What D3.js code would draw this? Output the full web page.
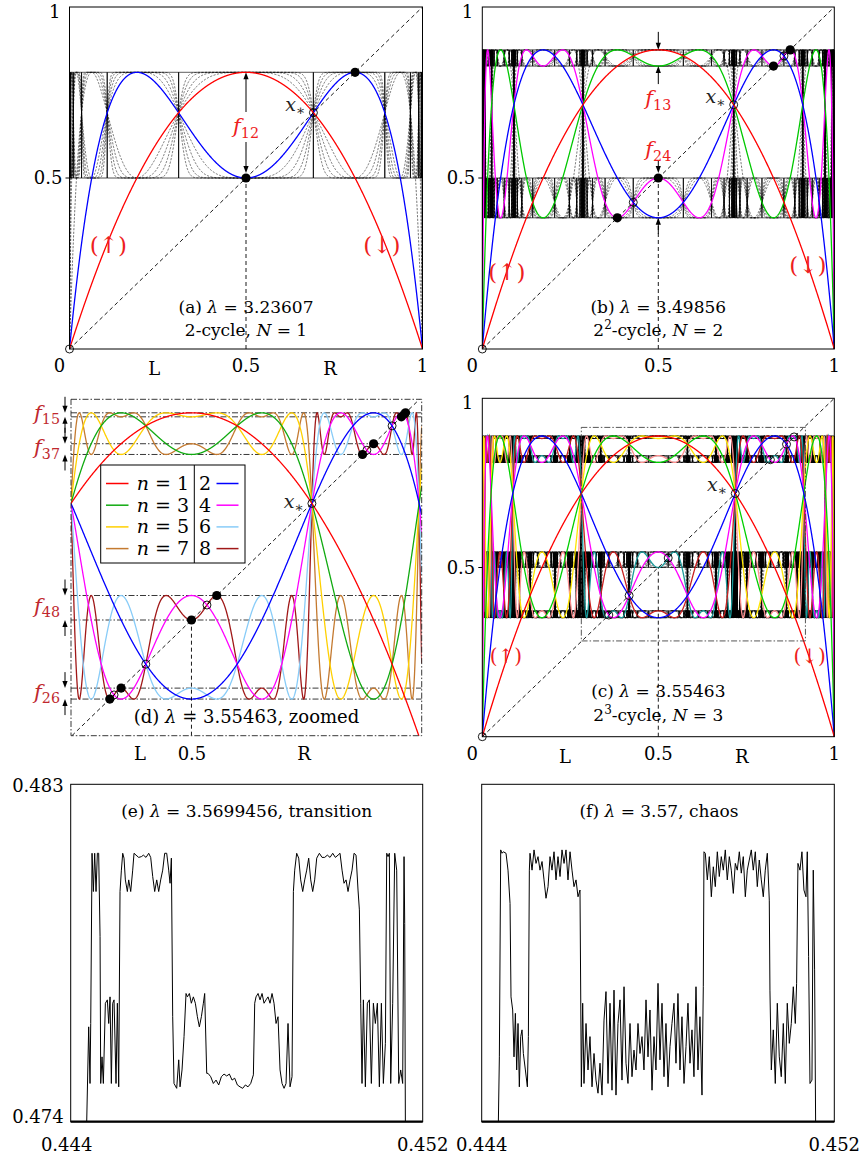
<!DOCTYPE html>
<html><head><meta charset="utf-8">
<script src="https://cdn.jsdelivr.net/npm/d3@7"></script>
<style>
body{margin:0;background:#fff;}
svg{display:block;font-family:"DejaVu Serif",serif;}
</style></head><body>
<svg id="fig" width="861" height="1155"></svg>
<script>
// Logistic map x -> λ x (1 - x): parameters of the six panels
const panelIds   = ["a", "b", "c", "d", "e", "f"];
const lambdas    = [3.23607, 3.49856, 3.55463, 3.55463, 3.5699456, 3.57];
const cycleOrder = [1, 2, 3, 3];               // N, superstable cycle of length 2^N
const colouredN  = [2, 4, 8, 8];               // low iterates drawn in colour
const dashedCount = [8, 13, 34];               // further iterates drawn as thin black dashes
const unitTicks  = [0, 0.5, 1];
const unitTickLabels = ["0", "0.5", "1"];
const zoomX = [0.2813, 0.918];                 // window of panel (d)
const zoomY = [0.283, 0.914];
const fineX = [0.444, 0.452];                  // window of panels (e), (f)
const fineY = [0.474, 0.483];
const fineXLabels = ["0.444", "0.452"];
const fineYLabels = ["0.474", "0.483"];
const pairLabels = [[1, 5], [3, 7], [4, 8], [2, 6]];

// high iterate over the fine window, λ = 3.5699456 (values below 0.474 sit on the floor)
const transitionSeries = [
  [0.444, 0.474], [0.444348, 0.474], [0.444364, 0.474], [0.444409, 0.47653], [0.444439, 0.47502], [0.444455, 0.47662],
  [0.444485, 0.48116], [0.444515, 0.48014], [0.444545, 0.48116], [0.444576, 0.48014], [0.444606, 0.48116], [0.444636, 0.48116],
  [0.444667, 0.47894], [0.444682, 0.47502], [0.444712, 0.47573], [0.444742, 0.47502], [0.444788, 0.47716], [0.444833, 0.47725],
  [0.444864, 0.47662], [0.444894, 0.47733], [0.444924, 0.47502], [0.444955, 0.47716], [0.444985, 0.47725], [0.445030, 0.47502],
  [0.445061, 0.47716], [0.445091, 0.47493], [0.445121, 0.48014], [0.445152, 0.48071], [0.445182, 0.48116], [0.445212, 0.48103],
  [0.445242, 0.48045], [0.445288, 0.48014], [0.445318, 0.48045], [0.445364, 0.48014], [0.445409, 0.48071], [0.445439, 0.48116],
  [0.445485, 0.48111], [0.445545, 0.48105], [0.445606, 0.48107], [0.445652, 0.48111], [0.445712, 0.48105], [0.445773, 0.48116],
  [0.445818, 0.48105], [0.445864, 0.48054], [0.445909, 0.48014], [0.445955, 0.48045], [0.446000, 0.48014], [0.446045, 0.48045],
  [0.446091, 0.48071], [0.446136, 0.48116], [0.446182, 0.48116], [0.446227, 0.48071], [0.446258, 0.48036], [0.446288, 0.48103],
  [0.446318, 0.47680], [0.446348, 0.47502], [0.446409, 0.47489], [0.446455, 0.47565], [0.446485, 0.47493], [0.446530, 0.47538],
  [0.446576, 0.47627], [0.446621, 0.47742], [0.446652, 0.47733], [0.446697, 0.47742], [0.446742, 0.47716], [0.446788, 0.47733],
  [0.446833, 0.47716], [0.446879, 0.47680], [0.446924, 0.47653], [0.446970, 0.47680], [0.447015, 0.47716], [0.447045, 0.47742],
  [0.447091, 0.47529], [0.447121, 0.47529], [0.447182, 0.47520], [0.447242, 0.47502], [0.447303, 0.47511], [0.447364, 0.47498],
  [0.447424, 0.47520], [0.447485, 0.47527], [0.447545, 0.47522], [0.447606, 0.47527], [0.447667, 0.47511], [0.447727, 0.47516],
  [0.447788, 0.47498], [0.447848, 0.47493], [0.447909, 0.47489], [0.447970, 0.47498], [0.448030, 0.47493], [0.448091, 0.47502],
  [0.448152, 0.47525], [0.448182, 0.47716], [0.448212, 0.47733], [0.448258, 0.47742], [0.448303, 0.47725], [0.448349, 0.47742],
  [0.448394, 0.47716], [0.448439, 0.47725], [0.448485, 0.47733], [0.448530, 0.47716], [0.448576, 0.47742], [0.448621, 0.47716],
  [0.448667, 0.47662], [0.448712, 0.47680], [0.448758, 0.47538], [0.448803, 0.47502], [0.448849, 0.47489], [0.448894, 0.47502],
  [0.448939, 0.47662], [0.448985, 0.47493], [0.449030, 0.47520], [0.449061, 0.48014], [0.449091, 0.48071], [0.449136, 0.48116],
  [0.449182, 0.48103], [0.449227, 0.48045], [0.449273, 0.48014], [0.449318, 0.48045], [0.449364, 0.48071], [0.449409, 0.48103],
  [0.449455, 0.48045], [0.449500, 0.48014], [0.449545, 0.48045], [0.449591, 0.48103], [0.449652, 0.48116], [0.449712, 0.48105],
  [0.449773, 0.48105], [0.449833, 0.48111], [0.449894, 0.48105], [0.449955, 0.48116], [0.450015, 0.48105], [0.450076, 0.48111],
  [0.450121, 0.48116], [0.450167, 0.48071], [0.450212, 0.48036], [0.450258, 0.48045], [0.450303, 0.48014], [0.450349, 0.48045],
  [0.450394, 0.48071], [0.450439, 0.48116], [0.450485, 0.48111], [0.450530, 0.48018], [0.450561, 0.47965], [0.450591, 0.47716],
  [0.450621, 0.47502], [0.450652, 0.47725], [0.450697, 0.47493], [0.450742, 0.47716], [0.450788, 0.47725], [0.450833, 0.47502],
  [0.450879, 0.47716], [0.450924, 0.47662], [0.450970, 0.47716], [0.451015, 0.47493], [0.451061, 0.47716], [0.451106, 0.47502],
  [0.451152, 0.47609], [0.451182, 0.48116], [0.451212, 0.48107], [0.451242, 0.48116], [0.451273, 0.47502], [0.451318, 0.47716],
  [0.451364, 0.48116], [0.451409, 0.48071], [0.451455, 0.47502], [0.451500, 0.47538], [0.451545, 0.47502], [0.451576, 0.48107],
  [0.451591, 0.47929], [0.451606, 0.474], [0.452, 0.474]
];
// the same iterate at λ = 3.57
const chaosSeries = [
  [0.444, 0.474], [0.444378, 0.474], [0.444401, 0.47573], [0.444431, 0.48125], [0.444461, 0.48116], [0.444491, 0.48120],
  [0.444552, 0.48116], [0.444597, 0.48071], [0.444643, 0.47982], [0.444665, 0.47733], [0.444703, 0.47698], [0.444733, 0.47573],
  [0.444764, 0.47689], [0.444794, 0.47538], [0.444824, 0.47662], [0.444854, 0.47493], [0.444885, 0.47627], [0.444915, 0.47645],
  [0.444945, 0.47582], [0.444991, 0.47538], [0.445036, 0.47493], [0.445059, 0.47627], [0.445081, 0.48071], [0.445096, 0.48116],
  [0.445142, 0.48071], [0.445187, 0.48125], [0.445232, 0.48089], [0.445278, 0.48107], [0.445323, 0.48071], [0.445369, 0.48094],
  [0.445414, 0.48045], [0.445459, 0.47996], [0.445505, 0.48027], [0.445550, 0.48107], [0.445595, 0.48071], [0.445641, 0.48120],
  [0.445686, 0.48045], [0.445731, 0.48107], [0.445777, 0.48054], [0.445822, 0.48125], [0.445868, 0.48089], [0.445913, 0.48125],
  [0.445958, 0.48045], [0.446004, 0.48120], [0.446049, 0.48071], [0.446094, 0.48027], [0.446140, 0.48045], [0.446185, 0.48000],
  [0.446230, 0.48018], [0.446261, 0.47493], [0.446291, 0.47716], [0.446321, 0.47502], [0.446367, 0.47662], [0.446412, 0.47538],
  [0.446457, 0.47627], [0.446503, 0.47493], [0.446548, 0.47582], [0.446593, 0.47511], [0.446639, 0.47476], [0.446684, 0.47556],
  [0.446730, 0.47471], [0.446775, 0.47671], [0.446820, 0.47747], [0.446866, 0.47502], [0.446911, 0.47716], [0.446956, 0.47484],
  [0.447002, 0.47751], [0.447047, 0.47471], [0.447092, 0.47662], [0.447138, 0.47725], [0.447183, 0.47511], [0.447229, 0.47760],
  [0.447274, 0.47556], [0.447319, 0.47502], [0.447365, 0.47662], [0.447410, 0.47520], [0.447455, 0.47591], [0.447501, 0.47538],
  [0.447546, 0.47662], [0.447591, 0.47582], [0.447637, 0.47627], [0.447682, 0.47538], [0.447728, 0.47725], [0.447773, 0.47573],
  [0.447818, 0.47698], [0.447864, 0.47484], [0.447909, 0.47627], [0.447954, 0.47538], [0.448000, 0.47769], [0.448045, 0.47565],
  [0.448091, 0.47716], [0.448136, 0.47520], [0.448181, 0.47662], [0.448227, 0.47493], [0.448272, 0.47600], [0.448317, 0.47662],
  [0.448363, 0.47716], [0.448408, 0.47556], [0.448453, 0.47742], [0.448499, 0.47538], [0.448544, 0.47680], [0.448590, 0.47502],
  [0.448635, 0.47600], [0.448680, 0.47716], [0.448726, 0.47556], [0.448771, 0.47645], [0.448816, 0.47520], [0.448862, 0.47760],
  [0.448907, 0.47538], [0.448952, 0.47680], [0.448998, 0.47471], [0.449028, 0.47760], [0.449043, 0.48120], [0.449073, 0.48116],
  [0.449119, 0.48045], [0.449164, 0.48107], [0.449210, 0.48000], [0.449255, 0.48080], [0.449300, 0.48027], [0.449346, 0.48120],
  [0.449391, 0.48054], [0.449436, 0.48107], [0.449482, 0.48071], [0.449527, 0.48125], [0.449572, 0.48045], [0.449618, 0.48107],
  [0.449663, 0.48071], [0.449709, 0.48009], [0.449754, 0.48089], [0.449799, 0.48071], [0.449845, 0.48120], [0.449890, 0.48063],
  [0.449935, 0.48107], [0.449981, 0.48000], [0.450026, 0.48071], [0.450071, 0.48098], [0.450117, 0.48125], [0.450162, 0.48071],
  [0.450208, 0.48120], [0.450253, 0.48027], [0.450298, 0.48098], [0.450344, 0.48045], [0.450389, 0.48000], [0.450434, 0.48071],
  [0.450480, 0.48116], [0.450525, 0.47991], [0.450540, 0.47751], [0.450571, 0.47538], [0.450616, 0.47645], [0.450661, 0.47502],
  [0.450707, 0.47716], [0.450752, 0.47573], [0.450797, 0.47520], [0.450843, 0.47662], [0.450888, 0.47502], [0.450933, 0.47716],
  [0.450979, 0.47609], [0.451024, 0.47662], [0.451070, 0.47760], [0.451115, 0.47662], [0.451145, 0.47769], [0.451175, 0.48089],
  [0.451221, 0.48071], [0.451266, 0.48120], [0.451311, 0.48018], [0.451357, 0.48000], [0.451387, 0.48120], [0.451417, 0.47840],
  [0.451448, 0.47502], [0.451493, 0.47511], [0.451523, 0.48071], [0.451553, 0.47805], [0.451576, 0.474], [0.452, 0.474]
];

const coloursAB = ["#ff0000", "#0000ff", "#00c800", "#ff00ff"];
const coloursC  = ["#ff0000", "#0000ff", "#00d000", "#ff00ff", "#ffe600", "#c82020", "#ff9090", "#1a9a9a"];
const coloursD  = ["#ff0000", "#0000ff", "#10aa10", "#ff00ff", "#ffd000", "#88ccf8", "#c47a30", "#a01818"];

const svg = d3.select("#fig");
const defs = svg.append("defs");

function orbitOfHalf(lam, count) {
  const out = []; let x = 0.5;
  for (let k = 1; k <= count; k++) { x = lam * x * (1 - x); out.push(x); }
  return out;
}
function iterate(lam, x, n) { for (let i = 0; i < n; i++) x = lam * x * (1 - x); return x; }

// graphs of several iterates f^n sampled on a common grid
function iterateGraphs(lam, ns, dom, samples) {
  const maxN = d3.max(ns); const want = new Map(ns.map(n => [n, []]));
  for (let i = 0; i <= samples; i++) {
    const x0 = dom[0] + (dom[1] - dom[0]) * i / samples; let x = x0;
    for (let n = 1; n <= maxN; n++) {
      x = lam * x * (1 - x);
      const arr = want.get(n); if (arr) arr.push([x0, x]);
    }
  }
  return ns.map(n => ({ n, pts: want.get(n) }));
}
// all solutions of f^p(x) = x in [0,1]
function periodicPoints(lam, p) {
  const g = x => iterate(lam, x, p) - x; const pts = [0]; const M = 20000;
  let xa = 1e-7, ga = g(xa);
  for (let i = 1; i <= M; i++) {
    const xb = i / M - 1e-9, gb = g(xb);
    if (ga * gb < 0) {
      let lo = xa, hi = xb, glo = ga;
      for (let k = 0; k < 60; k++) { const m = (lo + hi) / 2, gm = g(m); if (gm * glo <= 0) hi = m; else { lo = m; glo = gm; } }
      pts.push((lo + hi) / 2);
    }
    xa = xb; ga = gb;
  }
  return pts;
}

function panelFrame(id, box, xDom, yDom) {
  const x = d3.scaleLinear().domain(xDom).range([box.l, box.r]);
  const y = d3.scaleLinear().domain(yDom).range([box.b, box.t]);
  defs.append("clipPath").attr("id", "clip-" + id).append("rect")
    .attr("x", box.l).attr("y", box.t).attr("width", box.r - box.l).attr("height", box.b - box.t);
  const g = svg.append("g");
  const plot = g.append("g").attr("clip-path", `url(#clip-${id})`);
  return { x, y, g, plot, box };
}
const lineOf = (P) => d3.line().x(d => P.x(d[0])).y(d => P.y(d[1]));

function arrow(g, x, yFrom, yTo, colour = "#000") {
  const dir = Math.sign(yTo - yFrom);
  g.append("line").attr("x1", x).attr("x2", x).attr("y1", yFrom).attr("y2", yTo - dir * 5)
    .attr("stroke", colour).attr("stroke-width", 1);
  g.append("path").attr("d", `M${x},${yTo} L${x - 2.6},${yTo - dir * 7} L${x + 2.6},${yTo - dir * 7} Z`).attr("fill", colour);
}
function fLabel(g, x, y, sub, colour, anchor = "middle", size = 21) {
  const t = g.append("text").attr("x", x).attr("y", y).attr("fill", colour).attr("text-anchor", anchor)
    .attr("font-size", size);
  t.append("tspan").attr("font-style", "italic").text("f");
  t.append("tspan").attr("font-size", size * 0.68).attr("dy", size * 0.22).text(sub);
}
function xStar(g, x, y) {
  const t = g.append("text").attr("x", x).attr("y", y).attr("text-anchor", "end").attr("font-size", 19).attr("fill", "#222");
  t.append("tspan").attr("font-style", "italic").text("x");
  t.append("tspan").attr("font-size", 14).attr("dy", 4).text("∗");
}
function caption(g, x, y, letter, lam, extra, size = 17) {
  const t = g.append("text").attr("x", x).attr("y", y).attr("text-anchor", "middle").attr("font-size", size);
  t.append("tspan").text(`(${letter}) `);
  t.append("tspan").attr("font-style", "italic").text("λ");
  t.append("tspan").text(` = ${lam}` + (extra || ""));
}
function cycleLine(g, x, y, N) {
  const t = g.append("text").attr("x", x).attr("y", y).attr("text-anchor", "middle").attr("font-size", 17);
  t.append("tspan").text("2");
  if (N > 1) { t.append("tspan").attr("font-size", 12).attr("dy", -7).text(N); t.append("tspan").attr("dy", 7).text("-cycle, "); }
  else t.append("tspan").text("-cycle, ");
  t.append("tspan").attr("font-style", "italic").text("N");
  t.append("tspan").text(` = ${N}`);
}
function arrowsLabel(g, x, y, dir, colour, size = 23) {
  g.append("text").attr("x", x).attr("y", y).attr("text-anchor", "middle").attr("font-size", size)
    .attr("fill", colour).text(dir > 0 ? "(↑)" : "(↓)");
}

const boxes = {
  a: { l: 69.5, r: 422.5, t: 7, b: 349 },
  b: { l: 482.3, r: 834.3, t: 7, b: 349 },
  c: { l: 482.3, r: 834.3, t: 398.3, b: 736.7 },
  d: { l: 71, r: 421.7, t: 399.3, b: 735.7 },
  e: { l: 70.7, r: 422.7, t: 784.3, b: 1121.7 },
  f: { l: 481.7, r: 834.3, t: 784.3, b: 1121.7 }
};

// ---------- full-interval panels (a), (b), (c) ----------
function fullPanel(idx) {
  const id = panelIds[idx], lam = lambdas[idx], N = cycleOrder[idx], period = 2 ** N;
  const P = panelFrame(id, boxes[id], [0, 1], [0, 1]);
  const colours = idx === 2 ? coloursC : coloursAB;
  const nc = colouredN[idx];
  const dashedN = d3.range(nc + 1, nc + 1 + dashedCount[idx]);
  const highN = d3.range(period * 60, period * 60 + period);
  const line = lineOf(P);
  iterateGraphs(lam, dashedN, [0, 1], 2400).forEach(c => {
    P.plot.append("path").attr("d", line(c.pts)).attr("fill", "none").attr("stroke", "#000")
      .attr("stroke-width", 0.55).attr("stroke-dasharray", "2.2,1.4");
  });
  iterateGraphs(lam, highN, [0, 1], 3000).forEach(c => {
    P.plot.append("path").attr("d", line(c.pts)).attr("fill", "none").attr("stroke", "#000").attr("stroke-width", 0.8);
  });
  iterateGraphs(lam, d3.range(nc, 0, -1), [0, 1], 1500).forEach(c => {
    P.plot.append("path").attr("d", line(c.pts)).attr("fill", "none").attr("stroke", colours[c.n - 1]).attr("stroke-width", 1.3);
  });
  // diagonal and the critical line x = 1/2
  P.plot.append("path").attr("d", line([[0, 0], [1, 1]])).attr("stroke", "#000").attr("stroke-width", 0.9).attr("stroke-dasharray", "4,3");
  P.plot.append("path").attr("d", line([[0.5, 0], [0.5, 0.5]])).attr("stroke", "#000").attr("stroke-width", 0.9).attr("stroke-dasharray", "4,3");
  P.g.append("rect").attr("x", P.box.l).attr("y", P.box.t).attr("width", P.box.r - P.box.l).attr("height", P.box.b - P.box.t)
    .attr("fill", "none").attr("stroke", "#000").attr("stroke-width", 1);
  P.g.append("line").attr("x1", P.box.l - 4).attr("x2", P.box.l).attr("y1", P.y(0.5)).attr("y2", P.y(0.5)).attr("stroke", "#000");
  unitTicks.forEach((v, i) => {
    P.g.append("text").attr("x", P.x(v) + (v === 0 ? -10 : 0)).attr("y", P.box.b + 23).attr("text-anchor", "middle")
      .attr("font-size", 18).text(unitTickLabels[i]);
  });
  P.g.append("text").attr("x", P.box.l - 7).attr("y", P.y(0.5) + 6).attr("text-anchor", "end").attr("font-size", 18).text(unitTickLabels[1]);
  P.g.append("text").attr("x", P.box.l - 9).attr("y", P.y(1) + 11).attr("text-anchor", "end").attr("font-size", 18).text(unitTickLabels[2]);
  // unstable periodic points (open) and the superstable cycle (filled)
  const unstable = periodicPoints(lam, 2 ** (N - 1));
  unstable.forEach(v => P.g.append("circle").attr("cx", P.x(v)).attr("cy", P.y(v)).attr("r", 4).attr("fill", "none").attr("stroke", "#000").attr("stroke-width", 0.9));
  const cyc = orbitOfHalf(lam, period);
  if (idx < 2) cyc.forEach(v => P.g.append("circle").attr("cx", P.x(v)).attr("cy", P.y(v)).attr("r", 4.6).attr("fill", "#000"));
  const xs = 1 - 1 / lam;
  xStar(P.g, P.x(xs) - 8, P.y(xs) - 2);
  return { P, cyc };
}

// (a)
{
  const { P, cyc } = fullPanel(0);
  const x = P.x(0.5);
  arrow(P.g, x, 112, P.y(cyc[0]));
  arrow(P.g, x, 142, P.y(cyc[1]) - 5);
  fLabel(P.g, x, 133, "12", "#ee2020");
  arrowsLabel(P.g, P.x(0.11), 253, 1, "#ee2020");
  arrowsLabel(P.g, P.x(0.885), 253, -1, "#ee2020");
  caption(P.g, P.x(0.5), 313, "a", lambdas[0]);
  cycleLine(P.g, P.x(0.5), 336, 1);
  ["L", "R"].forEach((s, i) => P.g.append("text").attr("x", P.x([0.24, 0.738][i])).attr("y", P.box.b + 26).attr("text-anchor", "middle").attr("font-size", 18).text(s));
}
// (b)
{
  const { P, cyc } = fullPanel(1);
  const x = P.x(0.5);
  arrow(P.g, x, P.y(cyc[0]) - 18, P.y(cyc[0]));
  arrow(P.g, x, P.y(cyc[2]) + 18, P.y(cyc[2]));
  fLabel(P.g, x, 105, "13", "#ee2020");
  fLabel(P.g, x, 156, "24", "#ee2020");
  arrow(P.g, x, 161, P.y(cyc[3]) - 5);
  arrow(P.g, x, P.y(cyc[1]) + 16, P.y(cyc[1]));
  arrowsLabel(P.g, P.x(0.07), 280, 1, "#ee2020");
  arrowsLabel(P.g, P.x(0.925), 273, -1, "#ee2020");
  caption(P.g, P.x(0.5), 313, "b", lambdas[1]);
  cycleLine(P.g, P.x(0.5), 336, 2);
}
// (c)
{
  const { P } = fullPanel(2);
  arrowsLabel(P.g, P.x(0.067), 663, 1, "#ee2020", 20);
  arrowsLabel(P.g, P.x(0.93), 663, -1, "#ee2020", 20);
  caption(P.g, P.x(0.5), 697, "c", lambdas[2]);
  cycleLine(P.g, P.x(0.5), 721, 3);
  ["L", "R"].forEach((s, i) => P.g.append("text").attr("x", P.x([0.235, 0.737][i])).attr("y", P.box.b + 26).attr("text-anchor", "middle").attr("font-size", 18).text(s));
  // window shown enlarged in (d)
  P.g.append("rect").attr("x", P.x(zoomX[0])).attr("y", P.y(zoomY[1])).attr("width", P.x(zoomX[1]) - P.x(zoomX[0]))
    .attr("height", P.y(zoomY[0]) - P.y(zoomY[1])).attr("fill", "none").attr("stroke", "#444").attr("stroke-width", 0.9)
    .attr("stroke-dasharray", "6,2,1.5,2");
}
// (d) enlarged window of (c)
{
  const lam = lambdas[3];
  const P = panelFrame("d", boxes.d, zoomX, zoomY);
  const line = lineOf(P);
  const orb = orbitOfHalf(lam, 8);
  orb.forEach(v => P.plot.append("path").attr("d", line([[zoomX[0], v], [zoomX[1], v]])).attr("stroke", "#222")
    .attr("stroke-width", 0.9).attr("stroke-dasharray", "6,2,1.5,2"));
  iterateGraphs(lam, d3.range(8, 0, -1), zoomX, 1600).forEach(c => {
    P.plot.append("path").attr("d", line(c.pts)).attr("fill", "none").attr("stroke", coloursD[c.n - 1]).attr("stroke-width", 1.3);
  });
  const lo = Math.max(zoomX[0], zoomY[0]), hi = Math.min(zoomX[1], zoomY[1]);
  P.plot.append("path").attr("d", line([[lo, lo], [hi, hi]])).attr("stroke", "#000").attr("stroke-width", 0.9).attr("stroke-dasharray", "4,3");
  P.plot.append("path").attr("d", line([[0.5, zoomY[0]], [0.5, 0.5]])).attr("stroke", "#000").attr("stroke-width", 0.9).attr("stroke-dasharray", "4,3");
  P.g.append("rect").attr("x", P.box.l).attr("y", P.box.t).attr("width", P.box.r - P.box.l).attr("height", P.box.b - P.box.t)
    .attr("fill", "none").attr("stroke", "#222").attr("stroke-width", 0.9).attr("stroke-dasharray", "6,2,1.5,2");
  periodicPoints(lam, 4).filter(v => v > zoomX[0]).forEach(v => P.g.append("circle").attr("cx", P.x(v)).attr("cy", P.y(v)).attr("r", 4).attr("fill", "none").attr("stroke", "#000").attr("stroke-width", 0.9));
  orb.forEach(v => P.g.append("circle").attr("cx", P.x(v)).attr("cy", P.y(v)).attr("r", 4.6).attr("fill", "#000"));
  const xs = 1 - 1 / lam;
  xStar(P.g, P.x(xs) - 8, P.y(xs) + 5);
  const ax = P.box.l - 6;
  pairLabels.forEach(([i, j]) => {
    const vi = orb[i - 1], vj = orb[j - 1];
    const up = Math.max(vi, vj), dn = Math.min(vi, vj);
    arrow(P.g, ax, P.y(up) - 16, P.y(up));
    arrow(P.g, ax, P.y(dn) + 16, P.y(dn));
    fLabel(P.g, 60, (P.y(up) + P.y(dn)) / 2 + 5, `${i}${j}`, "#c0282e", "end", 21);
  });
  // legend
  const lg = P.g.append("g");
  lg.append("rect").attr("x", 100.7).attr("y", 465).attr("width", 144.3).attr("height", 98).attr("fill", "#fff").attr("stroke", "#000").attr("stroke-width", 1);
  lg.append("line").attr("x1", 194.3).attr("x2", 194.3).attr("y1", 465).attr("y2", 563).attr("stroke", "#000");
  d3.range(4).forEach(r => {
    const yy = 483.5 + r * 21.7, nl = 2 * r + 1, nr = 2 * r + 2;
    lg.append("line").attr("x1", 106).attr("x2", 128.5).attr("y1", yy).attr("y2", yy).attr("stroke", coloursD[nl - 1]).attr("stroke-width", 1.5);
    const t = lg.append("text").attr("x", 189).attr("y", yy + 6.5).attr("text-anchor", "end").attr("font-size", 19);
    t.append("tspan").attr("font-style", "italic").text("n");
    t.append("tspan").text(` = ${nl}`);
    lg.append("text").attr("x", 199).attr("y", yy + 6.5).attr("font-size", 19).text(nr);
    lg.append("line").attr("x1", 216.5).attr("x2", 238.5).attr("y1", yy).attr("y2", yy).attr("stroke", coloursD[nr - 1]).attr("stroke-width", 1.5);
  });
  caption(P.g, 246.5, 722.5, "d", lam, ", zoomed", 18);
  [["L", 140], ["0.5", 192], ["R", 304]].forEach(([s, px]) => P.g.append("text").attr("x", px).attr("y", P.box.b + 24).attr("text-anchor", "middle").attr("font-size", 18).text(s));
}

// ---------- fine windows (e), (f) ----------
function finePanel(idx, series, title, yLabels) {
  const id = panelIds[idx];
  const P = panelFrame(id, boxes[id], fineX, fineY);
  const line = lineOf(P);
  P.plot.append("path").attr("d", line(series)).attr("fill", "none").attr("stroke", "#000").attr("stroke-width", 1);
  P.g.append("rect").attr("x", P.box.l).attr("y", P.box.t).attr("width", P.box.r - P.box.l).attr("height", P.box.b - P.box.t)
    .attr("fill", "none").attr("stroke", "#000").attr("stroke-width", 1);
  P.g.append("line").attr("x1", P.box.l).attr("x2", P.box.r).attr("y1", P.y(fineY[0])).attr("y2", P.y(fineY[0]))
    .attr("stroke", "#000").attr("stroke-width", 2.2);
  fineX.forEach((v, i) => P.g.append("text").attr("x", P.x(v) + (i === 0 && idx === 4 ? -4 : 0)).attr("y", 1151)
    .attr("text-anchor", "middle").attr("font-size", 18).text(fineXLabels[i]));
  if (yLabels) {
    P.g.append("text").attr("x", P.box.l - 7).attr("y", P.y(fineY[1]) + 8).attr("text-anchor", "end").attr("font-size", 18).text(fineYLabels[1]);
    P.g.append("text").attr("x", P.box.l - 7).attr("y", P.y(fineY[0]) + 1).attr("text-anchor", "end").attr("font-size", 18).text(fineYLabels[0]);
  }
  caption(P.g, (P.box.l + P.box.r) / 2 + (idx === 4 ? 0 : 1), 817, id, lambdas[idx], title);
}
finePanel(4, transitionSeries, ", transition", true);
finePanel(5, chaosSeries, ", chaos", false);
</script>
</body></html>
